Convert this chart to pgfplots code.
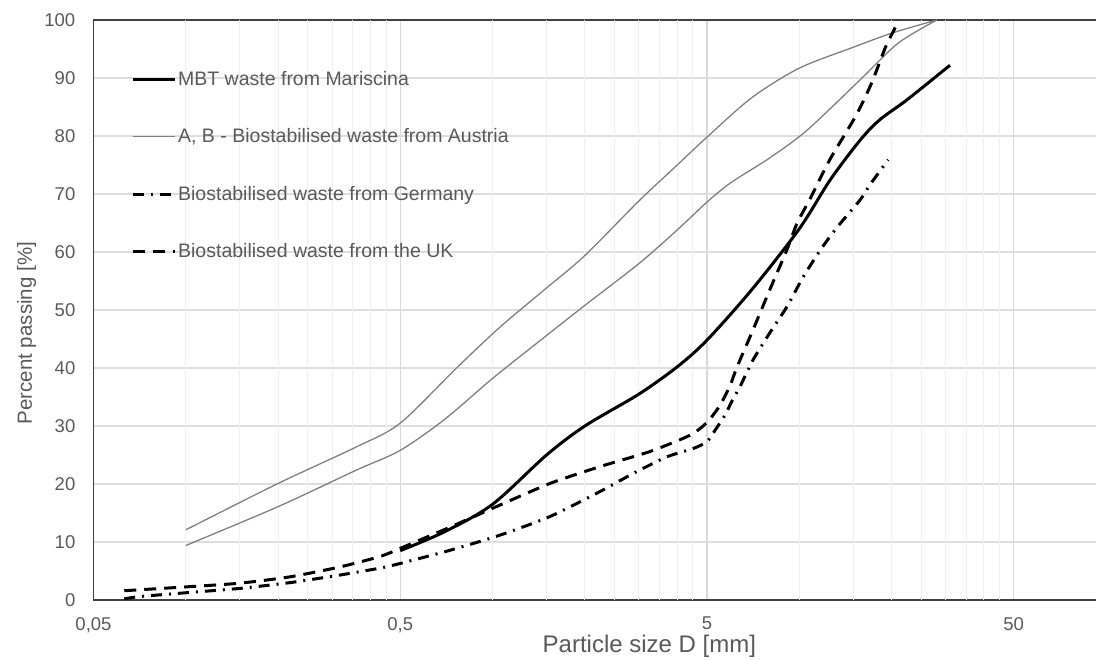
\documentclass[border=0pt]{standalone}
\usepackage{fontspec}
\setmainfont{Liberation Sans}
\usepackage{pgfplots}
\pgfplotsset{compat=1.18}
\definecolor{txt}{HTML}{595959}
\definecolor{austria}{HTML}{808080}
\begin{document}
\begin{tikzpicture}[x=1pt,y=1pt]
\path[use as bounding box] (-93.5,-60) rectangle (1002.5,600);
\begin{axis}[
  at={(0,0)}, anchor=south west,
  scale only axis, width=1012.5pt, height=580pt,
  xmode=log, log basis x=10,
  xmin=0.05, xmax=100, ymin=0, ymax=100,
  xtick={0.05,0.5,5,50},
  xticklabels={0{,}05,0{,}5,5,50},
  minor xtick={}, minor ytick={},
  extra x ticks={0.1,0.15,0.2,0.25,0.3,0.35,0.4,0.45,1,1.5,2,2.5,3,3.5,4,4.5,10,15,20,25,30,35,40,45},
  extra x tick labels={},
  extra x tick style={grid=major, major x grid style={draw=black!6, line width=1pt}, major grid style={draw=black!6, line width=1pt}},
  ytick={0,10,...,100},
  xmajorgrids, ymajorgrids,
  major x grid style={draw=black!15, line width=1.1pt},
  major y grid style={draw=black!13, line width=1.3pt},
  axis line style={draw=black!75, line width=1.6pt},
  major tick length=0pt, minor tick length=0pt,
  tick style={draw=none},
  /pgf/number format/assume math mode=true,
  yticklabel style={font=\fontsize{18.5}{18.5}\selectfont, text=txt, anchor=east, inner sep=0pt, xshift=-18pt},
  xticklabel style={font=\fontsize{18.5}{18.5}\selectfont, text=txt, anchor=north, inner sep=0pt, yshift=-17pt},
  xlabel={Particle size D [mm]},
  ylabel={Percent passing [\%]},
  xlabel style={font=\fontsize{24}{24}\selectfont, text=txt, inner sep=0pt, anchor=base, at={(axis description cs:0.549,0)}, yshift=-53pt},
  ylabel style={font=\fontsize{20.5}{20.5}\selectfont, text=txt, inner sep=0pt, anchor=center, at={(axis description cs:-0.066,0.46)}},
  legend cell align=left,
  legend image code/.code={\draw[#1] (0pt,0.36em) -- (42pt,0.36em);},
  legend style={at={(axis description cs:0.037,0.904)}, anchor=north west, draw=none, fill=none,
    font=\fontsize{19.5}{19.5}\selectfont, text=txt, row sep=43.5pt, inner sep=0pt,
    nodes={inner sep=2pt, text height=0.75em, text depth=0.25em}},
]
% MBT waste from Mariscina
\addplot[black, line width=3pt, smooth, tension=0.5] coordinates {
(0.5,8.5) (0.7,11.8) (1,16.5) (1.5,25) (2,30) (3,35.5) (4,40.2) (5,44.8) (7,53.5) (10,64) (12.6,72.4) (15.8,79.3) (18.3,82.8) (22.4,86.2) (31,92.2)
};
\addlegendentry{MBT waste from Mariscina}
% Austria A (upper)
\addplot[austria, line width=1.3pt, smooth, tension=0.5] coordinates {
(0.1,12.1) (0.2,20.1) (0.36,26.4) (0.5,30.5) (0.77,40.2) (1.06,47.1) (1.5,53.8) (2,59.4) (3,68.8) (4,75) (5,79.8) (7,86.6) (10,91.7) (15,95.3) (20.2,97.8) (28.1,100)
};
\addlegendentry{A, B - Biostabilised waste from Austria}
% Austria B (lower)
\addplot[austria, line width=1.3pt, smooth, tension=0.5, forget plot] coordinates {
(0.1,9.4) (0.2,16.1) (0.36,22.4) (0.5,25.8) (0.7,31.2) (1,38.2) (1.5,45.6) (2,50.8) (3,58) (4,63.8) (5,68.6) (6,72) (8,76.2) (10.6,81) (15.8,89.7) (21,96) (28.1,100)
};
% Germany
\addplot[black, line width=3pt, smooth, tension=0.4, dash pattern=on 11pt off 7pt on 2pt off 7pt] coordinates {
(0.063,0.2) (0.071,0.6) (0.103,1.3) (0.15,2.0) (0.219,3.0) (0.318,4.3) (0.43,5.5) (0.5,6.3) (0.73,8.6) (1.06,11.2) (1.54,14.4) (2.24,18.7) (2.87,21.8) (3.71,24.7) (4.5,26.1) (5,27.3) (5.35,29.5) (5.73,31.9) (6.02,34.2) (6.41,36.8) (7.07,41.4) (8.0,46) (9.1,50.5) (10.3,55.7) (11.7,60.3) (13.3,64.3) (15.8,69) (17,71.6) (19.5,75.9)
};
\addlegendentry{Biostabilised waste from Germany}
% UK
\addplot[black, line width=3pt, smooth, tension=0.4, dash pattern=on 12pt off 8pt] coordinates {
(0.063,1.6) (0.103,2.3) (0.15,2.9) (0.219,4.0) (0.318,5.7) (0.43,7.5) (0.5,8.9) (0.73,12.6) (1.06,16.4) (1.54,20.1) (2.24,23) (3.26,25.6) (4.4,28.4) (5,30.6) (5.52,33.6) (5.95,37) (6.27,40.2) (7.07,46.6) (8.0,53.4) (9.1,60.3) (9.84,65) (10.8,69) (12.6,76) (15.3,83.5) (17.2,89.1) (19.1,95.3) (20.6,98.8) (21,100)
};
\addlegendentry{Biostabilised waste from the UK}
\end{axis}
\end{tikzpicture}
\end{document}
